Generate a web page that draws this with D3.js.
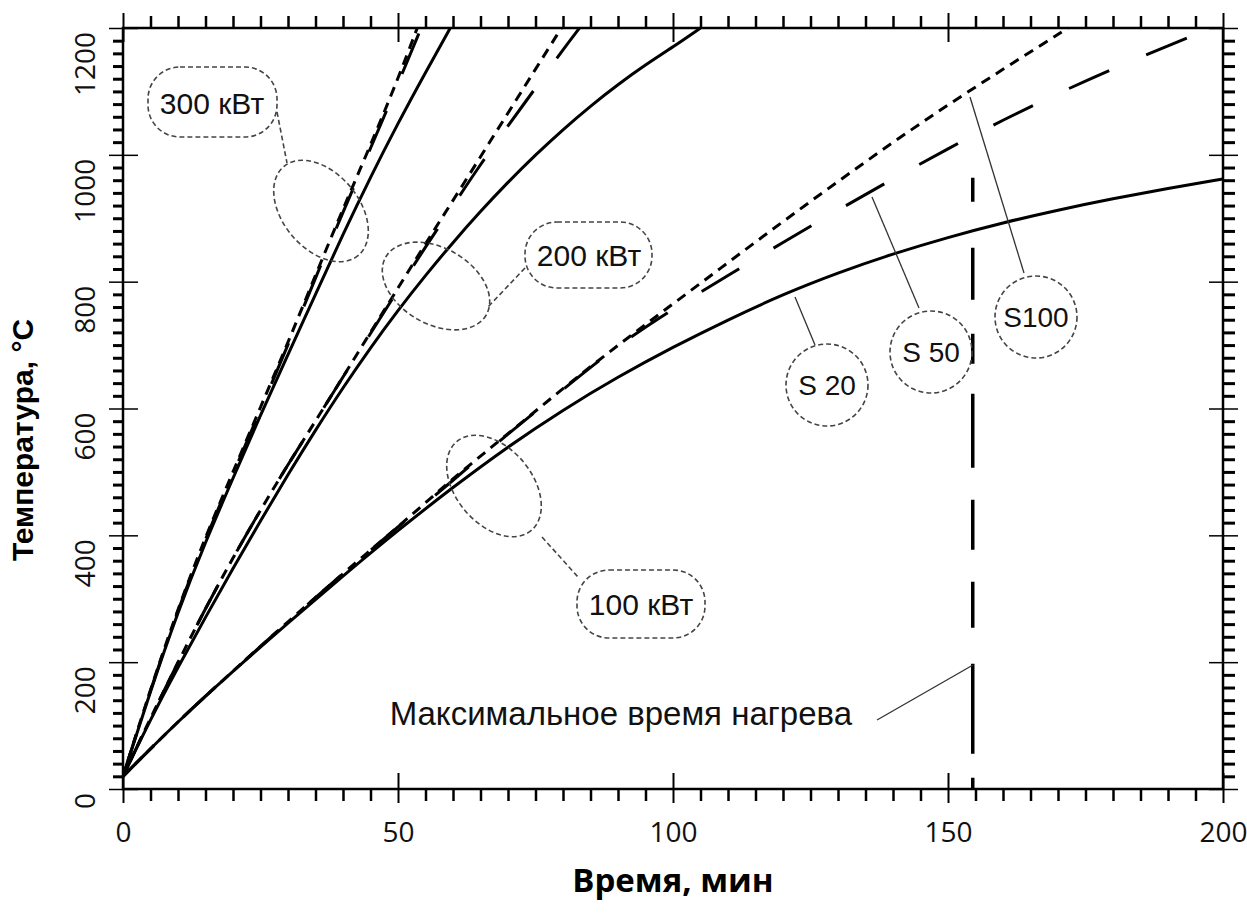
<!DOCTYPE html>
<html>
<head>
<meta charset="utf-8">
<script src="https://cdn.jsdelivr.net/npm/d3@7"></script>
<style>
  body { margin: 0; background: #fff; }
  svg { display: block; }
</style>
</head>
<body>
<svg width="1247" height="916"></svg>
<script>
// ---- data ----
var xMajor = [0, 50, 100, 150, 200];
var yMajor = [0, 200, 400, 600, 800, 1000, 1200];

// 100 kW
var t100 = [0,10,20,30,40,50,60,70,80,90,100,110,120,130,140,150,160,170,180,190,200];
var s20_100 = [20,107,186,262,336,408,476,540,598,650,697,740,780,814,844,870,893,913,931,947,962];
var t100b = [0,10,20,30,40,50,60,70,80,90,100,110,120,130,140,150,160,170,180,190,198];
var s50_100 = [20,107,186,264,340,413,487,560,630,700,757,810,862,913,962,1010,1055,1097,1136,1172,1200];
var t100c = [0,10,20,30,40,50,60,70,80,90,100,110,120,130,140,150,160,170,171.8];
var s100_100 = [20,107,186,264,340,413,490,560,632,700,765,830,895,958,1020,1079,1135,1190,1200];

// 200 kW
var t200a = [0,5,10,15,20,25,30,35,40,45,50,55,60,65,70,75,80,85,90,95,100,105];
var s20_200 = [20,110,192,271,348,423,496,566,633,696,755,810,862,911,957,1000,1040,1077,1111,1142,1170,1200];
var t200b = [0,5,10,15,20,25,30,35,40,45,50,55,60,65,70,75,80,83];
var s50_200 = [20,112,200,285,365,440,512,580,650,718,787,855,920,985,1046,1105,1166,1200];
var t200c = [0,5,10,15,20,25,30,35,40,45,50,55,60,65,70,75,79.7];
var s100_200 = [20,112,200,285,365,440,512,580,650,720,790,860,928,997,1066,1135,1200];

// 300 kW
var t300a = [0,5,10,15,20,25,30,35,40,45,50,55,59.5];
var s20_300 = [20,155,280,390,490,590,685,780,875,965,1050,1130,1200];
var t300b = [0,5,10,15,20,25,30,35,40,45,50,54.2];
var s50_300 = [20,157,283,395,497,598,700,806,910,1010,1112,1200];
var t300c = [0,5,10,15,20,25,30,35,40,45,50,53.5];
var s100_300 = [20,158,285,398,500,602,704,810,915,1015,1120,1200];

var maxTime = 154.5;
var maxTimeTemp = [0, 964];

var series = [
  {t: t100, v: s20_100, kind: "S20"},
  {t: t100b, v: s50_100, kind: "S50"},
  {t: t100c, v: s100_100, kind: "S100"},
  {t: t200a, v: s20_200, kind: "S20"},
  {t: t200b, v: s50_200, kind: "S50"},
  {t: t200c, v: s100_200, kind: "S100"},
  {t: t300a, v: s20_300, kind: "S20"},
  {t: t300b, v: s50_300, kind: "S50"},
  {t: t300c, v: s100_300, kind: "S100"}
];

// ---- layout ----
var pLeft = 123, pRight = 1223, pTop = 28, pBottom = 789;
var svg = d3.select("svg");
var x = d3.scaleLinear().domain([0, 200]).range([pLeft, pRight]);
var y = d3.scaleLinear().domain([0, 1200]).range([pBottom, pTop]);

var xMinor = d3.range(0, 201, 5).filter(function(d){ return d % 50 != 0; });
var yMinor = d3.range(0, 1201, 20).filter(function(d){ return d % 200 != 0; });

svg.append("defs").append("clipPath").attr("id", "clip")
  .append("rect").attr("x", pLeft).attr("y", pTop - 1)
  .attr("width", pRight - pLeft).attr("height", pBottom - pTop + 1);

// lines
var dash = {S20: null, S50: "44,40", S100: "10,7"};
var line = d3.line().curve(d3.curveBasis);
var gLines = svg.append("g").attr("clip-path", "url(#clip)");
series.forEach(function(s){
  var pts = s.t.map(function(t, i){ return [x(t), y(s.v[i])]; });
  gLines.append("path")
    .attr("d", line(pts))
    .attr("fill", "none")
    .attr("stroke", "#000")
    .attr("stroke-width", 3)
    .attr("stroke-dasharray", dash[s.kind]);
});

// max heating time
svg.append("line")
  .attr("x1", x(maxTime)).attr("x2", x(maxTime))
  .attr("y1", y(maxTimeTemp[1])).attr("y2", y(maxTimeTemp[0]))
  .attr("stroke", "#000").attr("stroke-width", 3.5)
  .attr("stroke-dasharray", "24,46,52,34,30,30,74,32,50,32,46,36,90");

// ---- axes ----
function styleAxis(g, w) {
  g.select(".domain").remove();
  g.selectAll(".tick line").attr("stroke", "#000").attr("stroke-width", w);
}
function addAxis(axis, tr, w) {
  var g = svg.append("g").attr("transform", tr).call(axis);
  styleAxis(g, w);
  return g;
}
// bottom
addAxis(d3.axisBottom(x).tickValues(xMinor).tickSize(12).tickFormat(""), "translate(0," + pBottom + ")", 2.5);
var gx = addAxis(d3.axisBottom(x).tickValues(xMajor).tickSize(14).tickPadding(19), "translate(0," + pBottom + ")", 2);
addAxis(d3.axisTop(x).tickValues(xMajor).tickSize(16).tickFormat(""), "translate(0," + pBottom + ")", 2);
gx.selectAll("text").attr("font-family", "Open Sans").attr("font-size", 28).attr("fill", "#111");
// top
addAxis(d3.axisTop(x).tickValues(xMinor).tickSize(12).tickFormat(""), "translate(0," + pTop + ")", 2.5);
addAxis(d3.axisTop(x).tickValues(xMajor).tickSize(15).tickFormat(""), "translate(0," + pTop + ")", 2);
addAxis(d3.axisBottom(x).tickValues(xMajor).tickSize(14).tickFormat(""), "translate(0," + pTop + ")", 2);
// left
addAxis(d3.axisLeft(y).tickValues(yMinor).tickSize(10).tickFormat(""), "translate(" + pLeft + ",0)", 3);
addAxis(d3.axisLeft(y).tickValues(yMajor).tickSize(14).tickFormat(""), "translate(" + pLeft + ",0)", 1.5);
addAxis(d3.axisRight(y).tickValues(yMajor).tickSize(15).tickFormat(""), "translate(" + pLeft + ",0)", 1.5);
// right
addAxis(d3.axisRight(y).tickValues(yMinor).tickSize(12).tickFormat(""), "translate(" + pRight + ",0)", 3);
addAxis(d3.axisRight(y).tickValues(yMajor).tickSize(15).tickFormat(""), "translate(" + pRight + ",0)", 1.5);
addAxis(d3.axisLeft(y).tickValues(yMajor).tickSize(14).tickFormat(""), "translate(" + pRight + ",0)", 1.5);

// frame
svg.append("rect").attr("x", pLeft).attr("y", pTop)
  .attr("width", pRight - pLeft).attr("height", pBottom - pTop)
  .attr("fill", "none").attr("stroke", "#000").attr("stroke-width", 2.5);

// y tick labels, rotated
svg.append("g").selectAll("text").data(yMajor).enter().append("text")
  .attr("transform", function(d){ return "translate(95," + (y(d) + 4) + ") rotate(-90)"; })
  .attr("text-anchor", "end")
  .attr("font-family", "Open Sans").attr("font-size", 28).attr("fill", "#111")
  .text(function(d){ return d; });

// axis titles
svg.append("text")
  .attr("x", 673).attr("y", 892)
  .attr("text-anchor", "middle")
  .attr("font-family", "Open Sans").attr("font-weight", "bold").attr("font-size", 33)
  .text("Время, мин");
svg.append("text")
  .attr("transform", "translate(33,440) rotate(-90)")
  .attr("text-anchor", "middle")
  .attr("font-family", "Liberation Sans").attr("font-weight", "bold").attr("font-size", 30)
  .text("Температура, °C");

// ---- annotations ----
var ann = svg.append("g").attr("font-family", "Liberation Sans").attr("fill", "#111");
var bubbleStroke = {fill: "none", stroke: "#444", "stroke-width": 1.6, "stroke-dasharray": "5,3"};
function styled(sel) {
  for (var k in bubbleStroke) sel.attr(k, bubbleStroke[k]);
  return sel;
}
// power bubbles
var powerTags = [
  {label: "300 кВт", rx: 148, ry: 67, w: 129, h: 70, tx: 212, ty: 114, ex: 321, ey: 211, rot: 50, l: [277,112,287,163]},
  {label: "200 кВт", rx: 525, ry: 222, w: 127, h: 66, tx: 589, ty: 266, ex: 436, ey: 286, rot: 30, l: [525,268,488,307]},
  {label: "100 кВт", rx: 577, ry: 570, w: 128, h: 68, tx: 641, ty: 615, ex: 494, ey: 486, rot: 50, l: [542,537,578,577]}
];
powerTags.forEach(function(p){
  styled(ann.append("rect").attr("x", p.rx).attr("y", p.ry).attr("width", p.w).attr("height", p.h).attr("rx", 32));
  styled(ann.append("ellipse").attr("cx", 0).attr("cy", 0).attr("rx", 58).attr("ry", 38)
    .attr("transform", "translate(" + p.ex + "," + p.ey + ") rotate(" + p.rot + ")"));
  styled(ann.append("line").attr("x1", p.l[0]).attr("y1", p.l[1]).attr("x2", p.l[2]).attr("y2", p.l[3]));
  ann.append("text").attr("x", p.tx).attr("y", p.ty).attr("text-anchor", "middle")
    .attr("font-size", 30).text(p.label);
});
// S tags
var sTags = [
  {label: "S 20", cx: 827, cy: 385, l: [815,345,795,297]},
  {label: "S 50", cx: 931, cy: 352, l: [919,308,872,197]},
  {label: "S100", cx: 1036, cy: 317, l: [1024,273,970,97]}
];
sTags.forEach(function(s){
  styled(ann.append("circle").attr("cx", s.cx).attr("cy", s.cy).attr("r", 41));
  ann.append("line").attr("x1", s.l[0]).attr("y1", s.l[1]).attr("x2", s.l[2]).attr("y2", s.l[3])
    .attr("stroke", "#333").attr("stroke-width", 1.3);
  ann.append("text").attr("x", s.cx).attr("y", s.cy + 10).attr("text-anchor", "middle")
    .attr("font-size", 28).text(s.label);
});
// max time note
ann.append("text").attr("x", 852).attr("y", 725).attr("text-anchor", "end")
  .attr("font-size", 33).text("Максимальное время нагрева");
ann.append("line").attr("x1", 877).attr("y1", 720).attr("x2", 973).attr("y2", 665)
  .attr("stroke", "#333").attr("stroke-width", 1.3);
</script>
</body>
</html>
